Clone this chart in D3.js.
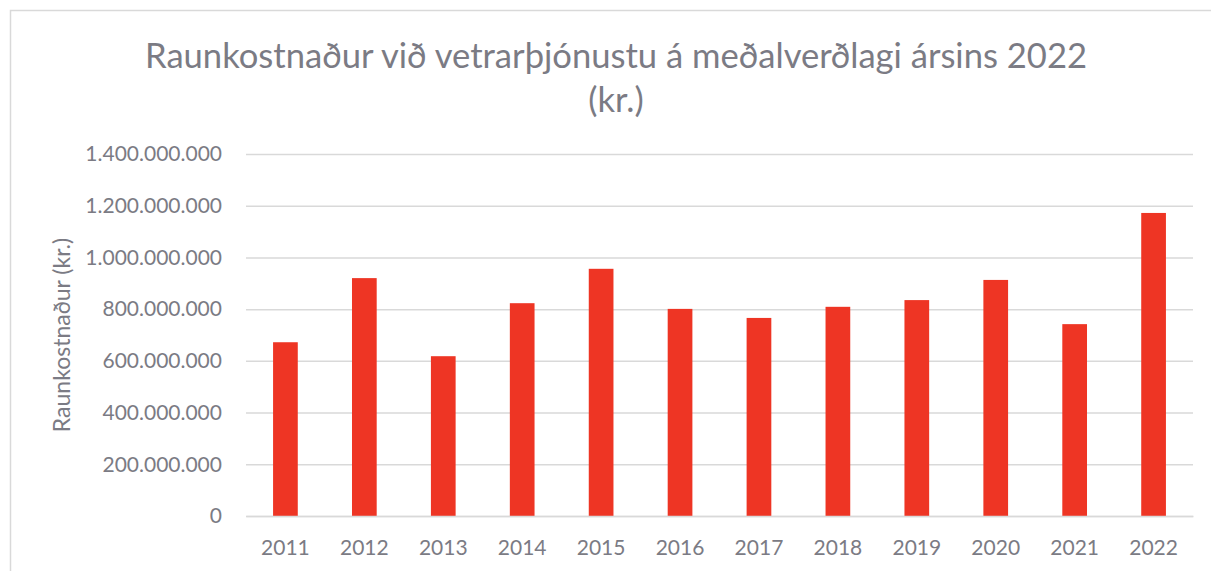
<!DOCTYPE html>
<html lang="is">
<head>
<meta charset="UTF-8">
<title>Raunkostnaður við vetrarþjónustu</title>
<script src="https://d3js.org/d3.v7.min.js"></script>
<style>
    body, html {
        margin: 0;
        padding: 0;
        background: #fff;
        overflow: hidden;
    }
    svg {
        display: block;
        font-family: Lato, 'Open Sans', sans-serif;
    }
</style>
</head>
<body>
<svg id="chart" width="1211" height="571"></svg>
<script>

// Data
const years = ["2011", "2012", "2013", "2014", "2015", "2016", "2017", "2018", "2019", "2020", "2021", "2022"];
const costs = [672e6, 920e6, 618e6, 823e6, 956e6, 801e6, 766e6, 809e6, 835e6, 913e6, 742e6, 1172e6];
const yTicks = [0, 200e6, 400e6, 600e6, 800e6, 1000e6, 1200e6, 1400e6];

const titleLines = ["Raunkostnaður við vetrarþjónustu á meðalverðlagi ársins 2022", "(kr.)"];
const yTitle = "Raunkostnaður (kr.)";

const textColor = "#7b7b84";
const gridColor = "#d9d9d9";
const barColor = "#ee3524";

const svg = d3.select("#chart");
const width = 1211, height = 571;
const margin = {top: 154, right: 18, bottom: 55, left: 246};

// chart frame (only top and left edges are in view)
svg.append("path")
    .attr("d", `M10.5,${height} V10.5 H${width}`)
    .attr("fill", "none")
    .attr("stroke", "#d9d9d9")
    .attr("stroke-width", 1.5);

const x = d3.scaleBand()
    .domain(years)
    .range([margin.left, width - margin.right])
    .paddingInner(0.687)
    .paddingOuter(0.343);

const y = d3.scaleLinear()
    .domain([0, 1400e6])
    .range([height - margin.bottom, margin.top]);

const fmt = v => v === 0 ? "0" : d3.format(",")(v).replace(/,/g, ".");

// gridlines + y labels
const yAxis = d3.axisLeft(y)
    .tickValues(yTicks)
    .tickSize(-(width - margin.right - margin.left))
    .tickPadding(24)
    .tickFormat(fmt);

const gy = svg.append("g")
    .attr("transform", `translate(${margin.left},0)`)
    .call(yAxis);
gy.select(".domain").remove();
gy.selectAll(".tick line")
    .attr("stroke", gridColor)
    .attr("stroke-width", 1.5);
gy.selectAll(".tick text")
    .attr("fill", textColor)
    .attr("font-size", 21)
    .attr("font-family", "Lato, sans-serif");

// bars
svg.append("g")
    .selectAll("rect")
    .data(costs)
    .join("rect")
    .attr("x", (d, i) => x(years[i]))
    .attr("width", x.bandwidth())
    .attr("y", d => y(d))
    .attr("height", d => y(0) - y(d))
    .attr("fill", barColor);

// x axis labels
const gx = svg.append("g")
    .attr("transform", `translate(0,${y(0)})`)
    .call(d3.axisBottom(x).tickSize(0).tickPadding(24));
gx.select(".domain")
    .attr("stroke", gridColor)
    .attr("stroke-width", 1.5);
gx.selectAll(".tick text")
    .attr("fill", textColor)
    .attr("font-size", 21)
    .attr("font-family", "Lato, sans-serif");

// title
svg.append("text")
    .attr("x", 616)
    .attr("y", 68)
    .attr("text-anchor", "middle")
    .attr("fill", textColor)
    .attr("font-size", 34.6)
    .text(titleLines[0]);
svg.append("text")
    .attr("x", 616)
    .attr("y", 112)
    .attr("text-anchor", "middle")
    .attr("fill", textColor)
    .attr("font-size", 34.6)
    .text(titleLines[1]);

// y axis title
svg.append("text")
    .attr("transform", `translate(70,${335}) rotate(-90)`)
    .attr("text-anchor", "middle")
    .attr("fill", textColor)
    .attr("font-size", 23)
    .text(yTitle);

</script>
</body>
</html>
